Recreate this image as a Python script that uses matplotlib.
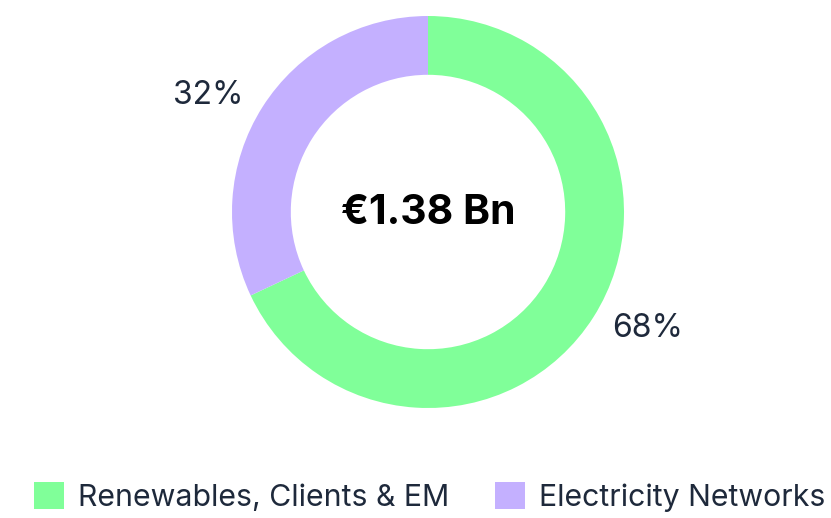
import numpy as np
import matplotlib.pyplot as plt
from matplotlib.patches import Patch

segments = ['Renewables, Clients & EM', 'Electricity Networks']
shares = [68, 32]
colors = ['#80FF99', '#C4B0FF']
total_label = '€1.38 Bn'

plt.rcParams['font.family'] = ['Inter', 'DejaVu Sans']
text_color = '#1E293B'

fig = plt.figure(figsize=(8.31, 5.18), dpi=100)
# donut centre at (428, 212) px from top, radius 196 px
ax = fig.add_axes([(428 - 196) / 831, (518 - 212 - 196) / 518, 392 / 831, 392 / 518])

wedges, _ = ax.pie(
    shares, colors=colors, startangle=90, counterclock=False,
    radius=1.0, wedgeprops=dict(width=0.3, linewidth=0),
)
ax.set_xlim(-1, 1)
ax.set_ylim(-1, 1)
ax.set_aspect('equal')
ax.axis('off')

# percentage labels outside the ring, slightly rotated from the wedge middle
for w, s in zip(wedges, shares):
    mid = np.deg2rad((w.theta1 + w.theta2) / 2 + 4.5)
    ax.text(1.27 * np.cos(mid), 1.27 * np.sin(mid), f'{s}%', ha='center',
            va='center', fontsize=23, color=text_color)

ax.text(0, -0.005, total_label, ha='center', va='center', fontsize=29.5,
        fontweight='bold', color='#000000')

handles = [Patch(facecolor=c, edgecolor='none') for c in colors]
fig.legend(handles, segments, loc='center', bbox_to_anchor=(0.517, 0.041),
           ncol=2, frameon=False, fontsize=21.8, handlelength=1.0, handleheight=1.0,
           handletextpad=0.45, columnspacing=1.5, labelcolor=text_color,
           borderpad=0)

fig.savefig('out.png', dpi=100)
